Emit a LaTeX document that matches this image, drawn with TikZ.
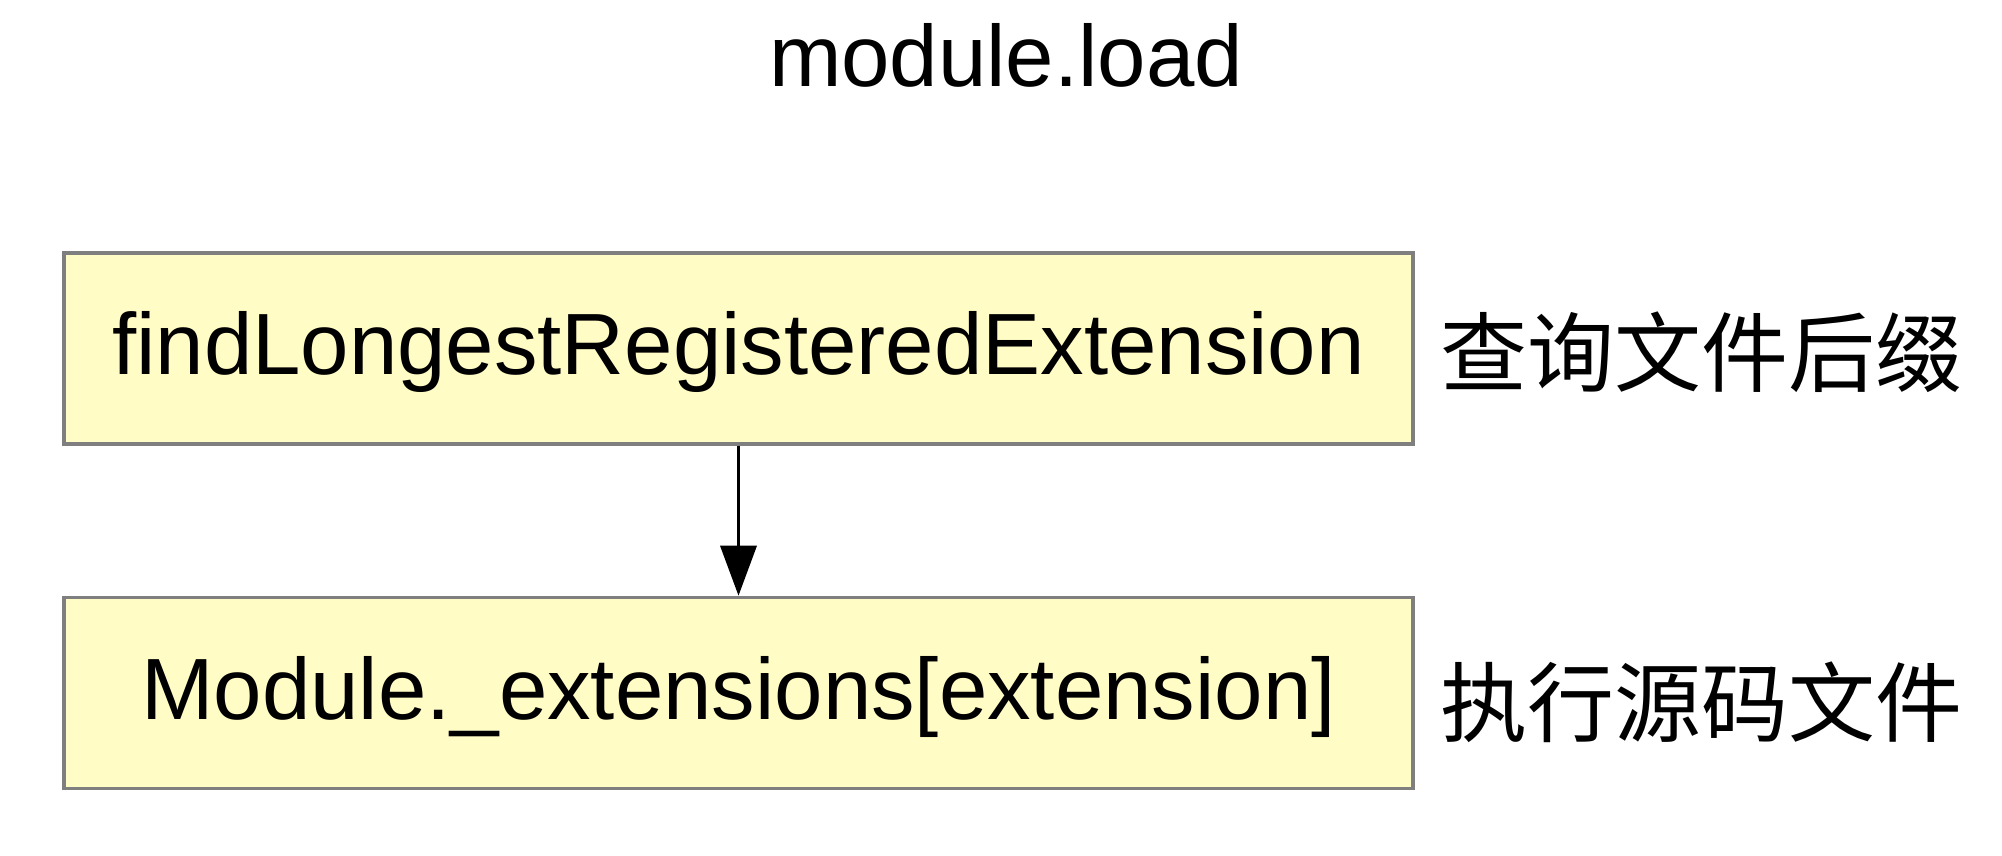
\documentclass[tikz,border=0pt]{standalone}
\usepackage{fontspec}
\setmainfont{Liberation Sans}
\newfontfamily\cjk{Noto Sans CJK SC}
\usetikzlibrary{arrows.meta}
\definecolor{boxfill}{HTML}{FFFCC6}
\definecolor{boxline}{HTML}{7F7F7F}
\begin{document}
\begin{tikzpicture}[x=1pt,y=1pt,
  bigtext/.style={font=\fontsize{87}{100}\selectfont},
  stepbox/.style={bigtext, draw=boxline, line width=3.5pt, fill=boxfill,
    minimum width=1349pt, minimum height=191pt, inner sep=0pt,
    text height=63pt, text depth=10pt},
  note/.style={font=\cjk\fontsize{87}{100}\selectfont, anchor=west, inner sep=0pt},
  conn/.style={line width=3.5pt, -{Triangle[width=36pt,length=50pt]}}]
\useasboundingbox (0,0) rectangle (2002,856);
\fill[white] (0,0) rectangle (2002,856);
\node[bigtext, anchor=base, inner sep=0pt] (title) at (1006,769) {module.load};
\node[stepbox] (find) at (738.5,507.5) {findLongestRegisteredExtension};
\node[stepbox] (ext) at (738.5,163) {Module.\_extensions[extension]};
\node[note] (n1) at (1440,504) {查询文件后缀};
\node[note] (n2) at (1440,154) {执行源码文件};
\draw[conn] (find.south) -- (ext.north);
\end{tikzpicture}
\end{document}
